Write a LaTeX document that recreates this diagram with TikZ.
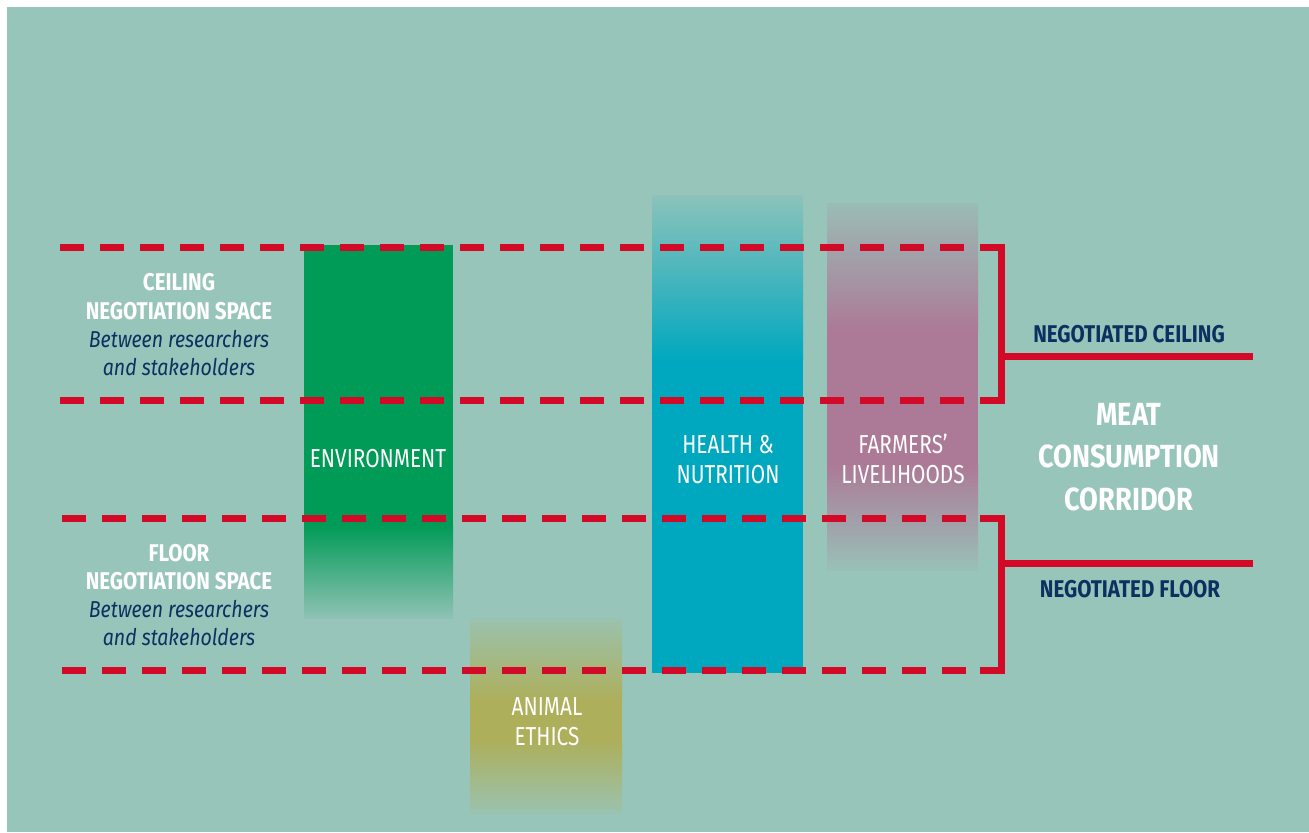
\documentclass[tikz,border=0pt]{standalone}
\usepackage{fontspec}
\setmainfont{Fira Sans}[FakeStretch=0.85]
\newfontfamily\boxfont{Fira Sans}[FakeStretch=0.80]
\definecolor{bg}{RGB}{152,197,186}
\definecolor{cred}{RGB}{210,10,40}
\definecolor{cgreen}{RGB}{0,155,87}
\definecolor{chealth}{RGB}{0,168,191}
\definecolor{cfarm}{RGB}{172,122,150}
\definecolor{canim}{RGB}{173,175,91}
\definecolor{cnavy}{RGB}{12,48,96}
\tikzset{
  dashline/.style={draw=cred, line width=3.5pt, dash pattern=on 12pt off 8pt},
  bracketline/.style={draw=cred, line width=3.5pt, miter limit=10},
  headtxt/.style={anchor=base, inner sep=0pt, text=white, font=\fontsize{12.1pt}{14pt}\selectfont\bfseries},
  subtxt/.style={anchor=base, inner sep=0pt, text=cnavy, font=\fontsize{11.5pt}{14pt}\selectfont\itshape},
  boxtxt/.style={anchor=base, inner sep=0pt, text=white, font=\boxfont\fontsize{13pt}{15pt}\selectfont},
  sidetxt/.style={anchor=base, inner sep=0pt, text=cnavy, font=\fontsize{12.1pt}{14pt}\selectfont\bfseries},
  bigtxt/.style={anchor=base, inner sep=0pt, text=white, font=\fontsize{16pt}{18pt}\selectfont\bfseries},
}
\begin{document}
\begin{tikzpicture}[x=0.5pt,y=-0.5pt]
\useasboundingbox (0,0) rectangle (1309,832);
\fill[white] (0,0) rectangle (1309,832);
\fill[bg] (7,7) rectangle (1309,832);
% Environment
\fill[cgreen] (304,245) rectangle (453,526);
\shade[top color=cgreen, bottom color=cgreen!6!bg] (304,525) rectangle (453,618);
% Health & nutrition
\shade[top color=chealth!8!bg, bottom color=chealth] (652,195) rectangle (803,360.5);
\fill[chealth] (652,360) rectangle (803,673);
% Farmers' livelihoods
\shade[top color=cfarm!12!bg, bottom color=cfarm] (827,203) rectangle (978,330.5);
\fill[cfarm] (827,330) rectangle (978,465.5);
\shade[top color=cfarm, bottom color=cfarm!6!bg] (827,465) rectangle (978,570);
% Animal ethics
\shade[top color=canim!12!bg, bottom color=canim] (470,618) rectangle (622,700.5);
\fill[canim] (470,700) rectangle (622,740.5);
\shade[top color=canim, bottom color=canim!12!bg] (470,740) rectangle (622,813);
% dashed lines
\coordinate (cT0) at (60,247.5);
\coordinate (cT1) at (1004,247.5);
\coordinate (cB0) at (60,400.5);
\coordinate (cB1) at (1004,400.5);
\coordinate (fT0) at (62,518.5);
\coordinate (fT1) at (1004,518.5);
\coordinate (fB0) at (62,670.5);
\coordinate (fB1) at (1004,670.5);
\draw[dashline] (cT0) -- (cT1);
\draw[dashline] (cB0) -- (cB1);
\draw[dashline] (fT0) -- (fT1);
\draw[dashline] (fB0) -- (fB1);
% brackets
\draw[bracketline] (980,247.5) -- (1001,247.5) -- (1001,400.5) -- (980,400.5);
\draw[bracketline] (980,518.5) -- (1001,518.5) -- (1001,670.5) -- (980,670.5);
\coordinate (cEnd) at (1253,356);
\coordinate (fEnd) at (1253,563);
\draw[bracketline] (1001,356) -- (cEnd);
\draw[bracketline] (1001,563) -- (fEnd);
% left texts
\node[headtxt] (c1) at (179,290) {CEILING};
\node[headtxt] (c2) at (179,319) {NEGOTIATION SPACE};
\node[subtxt] (c3) at (179,347) {Between researchers};
\node[subtxt] (c4) at (179,375) {and stakeholders};
\node[headtxt] (f1) at (179,561) {FLOOR};
\node[headtxt] (f2) at (179,589) {NEGOTIATION SPACE};
\node[subtxt] (f3) at (179,617) {Between researchers};
\node[subtxt] (f4) at (179,645) {and stakeholders};
% box labels
\node[boxtxt] (env) at (378,467) {ENVIRONMENT};
\node[boxtxt] (h1) at (728,453) {HEALTH \&};
\node[boxtxt] (h2) at (728,483) {NUTRITION};
\node[boxtxt] (fa1) at (903,453) {FARMERS’};
\node[boxtxt] (fa2) at (903,483) {LIVELIHOODS};
\node[boxtxt] (a1) at (547,715) {ANIMAL};
\node[boxtxt] (a2) at (547,745) {ETHICS};
% right texts
\node[sidetxt] (nc) at (1129,342) {NEGOTIATED CEILING};
\node[bigtxt] (m1) at (1129,425) {MEAT};
\node[bigtxt] (m2) at (1129,467) {CONSUMPTION};
\node[bigtxt] (m3) at (1129,510) {CORRIDOR};
\node[sidetxt] (nf) at (1130,597) {NEGOTIATED FLOOR};
\end{tikzpicture}
\end{document}
